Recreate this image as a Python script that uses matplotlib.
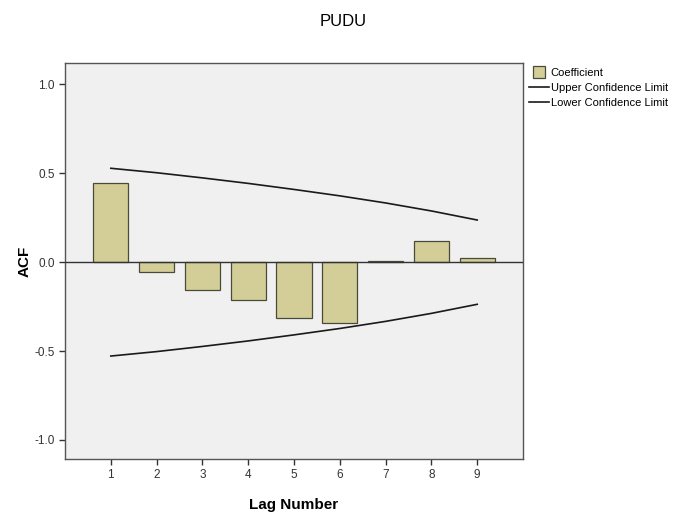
import matplotlib
matplotlib.use("Agg")
import matplotlib.pyplot as plt
from matplotlib.lines import Line2D

plt.rcParams["font.family"] = ["Liberation Sans", "DejaVu Sans"]

# ACF values
lags = [1, 2, 3, 4, 5, 6, 7, 8, 9]
coef = [0.445, -0.056, -0.158, -0.214, -0.314, -0.342, 0.004, 0.12, 0.021]
upper = [0.528, 0.503, 0.474, 0.443, 0.409, 0.373, 0.333, 0.288, 0.237]
lower = [-0.528, -0.503, -0.474, -0.443, -0.409, -0.373, -0.333, -0.288, -0.237]

fig = plt.figure(figsize=(6.86, 5.17), dpi=100)
ax = fig.add_axes([0.0948, 0.1122, 0.6676, 0.7659])
ax.set_facecolor("#F0F0F0")

ax.bar(lags, coef, width=0.77, color="#D3CE97", edgecolor="#4A4A3A", linewidth=0.9, zorder=2)
ax.axhline(0, color="#333333", linewidth=1.0, zorder=3)
ax.plot(lags, upper, color="#1A1A1A", linewidth=1.2, zorder=4)
ax.plot(lags, lower, color="#1A1A1A", linewidth=1.2, zorder=4)

ax.set_xlim(0, 10)
ax.set_ylim(-1.107, 1.12)
ax.set_xticks(lags)
ax.set_yticks([-1.0, -0.5, 0.0, 0.5, 1.0])
ax.set_yticklabels(["-1.0", "-0.5", "0.0", "0.5", "1.0"])
ax.tick_params(axis="both", labelsize=8.5, colors="#333333", length=4, width=1, direction="out")

for s in ax.spines.values():
    s.set_color("#555555")
    s.set_linewidth(1.0)

ax.set_xlabel("Lag Number", fontsize=11, fontweight="bold", labelpad=12)
ax.set_ylabel("ACF", fontsize=11, fontweight="bold", labelpad=2)
fig.suptitle("PUDU", x=0.5, y=0.972, fontsize=12)

handles = [Line2D([], [], linestyle="none", marker="s", markersize=8,
                  markerfacecolor="#D3CE97", markeredgecolor="#4A4A3A", markeredgewidth=0.9),
           Line2D([], [], color="#1A1A1A", linewidth=1.2),
           Line2D([], [], color="#1A1A1A", linewidth=1.2)]
fig.legend(handles, ["Coefficient", "Upper Confidence Limit", "Lower Confidence Limit"],
           loc="upper left", bbox_to_anchor=(0.764, 0.878), frameon=False, fontsize=8,
           handlelength=1.8, handletextpad=0.2, labelspacing=0.45, borderaxespad=0)

fig.savefig("out.png", dpi=100)
